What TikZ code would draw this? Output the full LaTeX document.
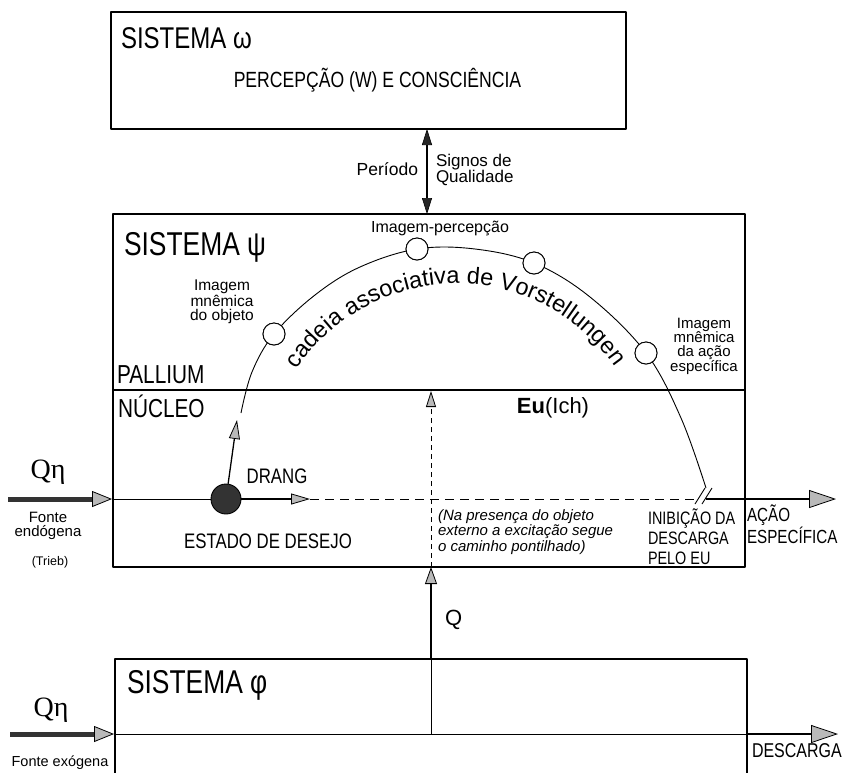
\documentclass[tikz,border=0pt]{standalone}
\usepackage{fontspec}
\setmainfont{Liberation Sans}
\newfontfamily\hand[FakeStretch=0.8]{Liberation Sans}
\newfontfamily\qfont{Liberation Serif}
\usetikzlibrary{arrows.meta,decorations.text}
\newcommand\fsz[2]{\fontsize{#1}{#2}\selectfont}
\begin{document}
\begin{tikzpicture}[x=1pt,y=-1pt,line join=round,
  box/.style={draw,line width=1.1pt,inner sep=0pt},
  boxline/.style={line width=1.1pt},
  thinline/.style={line width=0.9pt},
  lbl/.style={inner sep=0pt,outer sep=0pt},
  arr/.style={line width=1.3pt,-{Triangle[length=19pt,width=11pt,line width=0.8pt,fill=gray!55]}},
  bigarr/.style={line width=1.3pt,-{Triangle[length=27pt,width=18pt,line width=0.8pt,fill=gray!55]}},
  fatarr/.style={line width=5pt,draw=gray!40!black,-{Triangle[length=20pt,width=16pt,line width=0.8pt,color=black,fill=gray!55]}},
  dblarr/.style={line width=2pt,{Triangle[length=16pt,width=10pt,line width=0.6pt,fill=gray!30!black]}-{Triangle[length=16pt,width=10pt,line width=0.6pt,fill=gray!30!black]}},
  dashh/.style={line width=0.9pt,dash pattern=on 9pt off 6pt},
  dashv/.style={line width=0.9pt,dash pattern=on 5pt off 4pt,-{Triangle[length=16pt,width=10pt,line width=0.8pt,fill=gray!55]}},
  qarr/.style={line width=2.6pt,-{Triangle[length=17pt,width=12pt,line width=0.8pt,fill=gray!55]}},
  img/.style={circle,draw,fill=white,line width=0.9pt,minimum size=22pt,inner sep=0pt},
  desire/.style={circle,draw,fill=black!80,line width=0.9pt,minimum size=30pt,inner sep=0pt}]
\useasboundingbox (0,0) rectangle (851,772);

% ---- boxes ----
\node[box,minimum width=515pt,minimum height=117pt] (omega) at (368.5,70.5) {};
\node[box,minimum width=632pt,minimum height=353pt] (psi) at (429,390.5) {};
\coordinate (divL) at (113,390);
\coordinate (divR) at (745,390);
\draw[boxline] (divL) -- (divR);
\coordinate (phiBL) at (115,774);
\coordinate (phiTR) at (747,659);
\coordinate (phiBR) at (747,774);
\draw[boxline] (phiBL) |- (phiTR) -- (phiBR);

% ---- omega box texts ----
\node[lbl,anchor=base west,font={\hand\fsz{30}{30}}] (tomega) at (121,48) {SISTEMA ω};
\node[lbl,anchor=base,font={\hand\fsz{22}{22}}] (tperc) at (377.5,87) {PERCEPÇÃO (W) E CONSCIÊNCIA};

% ---- omega <-> psi ----
\coordinate (perA) at (427,129);
\coordinate (perB) at (427,214);
\draw[dblarr] (perA) -- (perB);
\node[lbl,anchor=base east,font={\fsz{17.5}{17.5}}] (tper) at (418,175) {Período};
\node[lbl,anchor=west,align=left,font={\fsz{17}{15.5}}] (tsig) at (436,170) {Signos de\\Qualidade};

% ---- psi texts ----
\node[lbl,anchor=base west,font={\hand\fsz{33}{33}}] (tpsi) at (124,255) {SISTEMA ψ};
\node[lbl,anchor=base west,font={\hand\fsz{26}{26}}] (tpal) at (117,383) {PALLIUM};
\node[lbl,anchor=base west,font={\hand\fsz{26}{26}}] (tnuc) at (118,417) {NÚCLEO};
\node[lbl,anchor=base,font={\fsz{22}{22}}] (teu) at (553,413) {\textbf{Eu}(Ich)};

% ---- associative chain ----
\node[img] (i1) at (274,334) {};
\node[img] (i2) at (417,249) {};
\node[img] (i3) at (534,263) {};
\node[img] (i4) at (646,353) {};
\coordinate (arcS) at (241,413);
\coordinate (arcE) at (706,488);
\draw[thinline] plot[smooth,tension=0.6] coordinates {(arcS) (252,372) (i1) (315,295) (360,267) (i2) (475,249) (i3) (590,297) (i4) (681,418) (arcE)};
\node[img] at (i1) {};
\node[img] at (i2) {};
\node[img] at (i3) {};
\node[img] at (i4) {};
\node[lbl,anchor=base,font={\fsz{16}{16}}] (tip) at (440,232) {Imagem-percepção};
\node[lbl,align=center,font={\fsz{15.5}{14}}] (tio) at (222,302) {Imagem\\mnêmica\\do objeto};
\node[lbl,align=center,font={\fsz{15}{14.3}}] (tia) at (704,346) {Imagem\\mnêmica\\da ação\\específica};
\path[decorate,decoration={text along path,text align=center,
  text={|\fsz{23.5}{23.5}|cadeia associativa de Vorstellungen}}]
  (294,374) arc[start angle=-148,end angle=-33,radius=192];

% ---- excitation line in psi ----
\coordinate (endoS) at (8,499);
\coordinate (endoE) at (112,499);
\coordinate (psiL) at (113,499);
\node[desire] (des) at (226,499) {};
\coordinate (drangtip) at (310,499);
\coordinate (uptip) at (237,420);
\coordinate (inh) at (697,499);
\coordinate (inh2) at (706,499);
\coordinate (acaotip) at (836,499);
\draw[fatarr] (endoS) -- (endoE);
\draw[thinline] (psiL) -- (des);
\draw[arr] (des) -- (drangtip);
\draw[arr] (des) -- (uptip);
\draw[dashh] (drangtip) -- (inh);
\draw[thinline] (695,504) -- (705,488);
\draw[thinline] (702,504) -- (712,488);
\draw[bigarr] (inh2) -- (acaotip);

\node[lbl,anchor=base,font={\qfont\fsz{28}{28}}] (tqn1) at (48,478) {Qη};
\node[lbl,align=center,font={\fsz{15}{14}}] (tfe) at (48,526) {Fonte\\endógena};
\node[lbl,anchor=base,font={\fsz{12.5}{12.5}}] (ttr) at (50,565) {(Trieb)};
\node[lbl,anchor=base,font={\hand\fsz{21}{21}}] (tdr) at (277,483) {DRANG};
\node[lbl,anchor=base,font={\hand\fsz{21}{21}}] (tes) at (268,548) {ESTADO DE DESEJO};
\node[lbl,anchor=west,align=left,font={\fsz{15}{15.5}\itshape}] (tna) at (438,532) {(Na presença do objeto\\externo a excitação segue\\o caminho pontilhado)};
\node[lbl,anchor=west,align=left,font={\hand\fsz{18}{20}}] (tin) at (648,537) {INIBIÇÃO DA\\DESCARGA\\PELO EU};
\node[lbl,anchor=west,align=left,font={\hand\fsz{19}{18}}] (tac) at (747,524) {AÇÃO\\ESPECÍFICA};

% ---- Q ----
\coordinate (qbot) at (431,734);
\coordinate (qmid) at (431,659);
\coordinate (qtop) at (431,567);
\coordinate (dtop) at (431,391);
\draw[dashv] (qtop) -- (dtop);
\draw[thinline] (qbot) -- (qmid);
\draw[qarr] (qmid) -- (qtop);
\node[lbl,anchor=base west,font={\fsz{22}{22}}] (tq) at (445,625) {Q};

% ---- phi ----
\node[lbl,anchor=base west,font={\hand\fsz{33}{33}}] (tphi) at (127,693) {SISTEMA φ};
\coordinate (exoS) at (10,734);
\coordinate (exoE) at (114,734);
\coordinate (phiL) at (115,734);
\coordinate (phiR) at (747,734);
\coordinate (desctip) at (838,734);
\draw[fatarr] (exoS) -- (exoE);
\draw[thinline] (phiL) -- (phiR);
\draw[bigarr] (phiR) -- (desctip);
\node[lbl,anchor=base,font={\qfont\fsz{28}{28}}] (tqn2) at (51,716) {Qη};
\node[lbl,anchor=base,font={\fsz{14.5}{14.5}}] (tfx) at (60,766) {Fonte exógena};
\node[lbl,anchor=base west,font={\hand\fsz{20}{20}}] (tdc) at (752,757) {DESCARGA};
\end{tikzpicture}
\end{document}
